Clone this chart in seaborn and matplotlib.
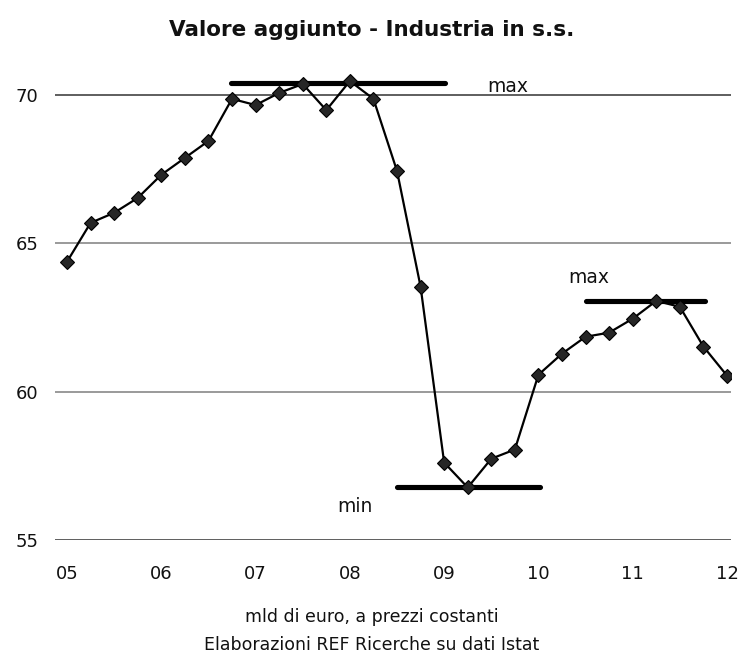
import numpy as np
import pandas as pd
import matplotlib
matplotlib.use("Agg")
import matplotlib.pyplot as plt
import seaborn as sns

# quarterly values, 2005 Q1 - 2012 Q1 (mld di euro, prezzi costanti)
valori = [64.38, 65.69, 66.03, 66.53, 67.31, 67.88, 68.45, 69.87, 69.66, 70.07,
          70.37, 69.49, 70.47, 69.87, 67.44, 63.54, 57.61, 56.77, 57.74, 58.05,
          60.57, 61.28, 61.85, 61.99, 62.46, 63.06, 62.86, 61.52, 60.54]
trimestri = list(range(len(valori)))
anni = ["05", "06", "07", "08", "09", "10", "11", "12"]
y_ticks = [55, 60, 65, 70]

# reference lines: start/end in quarters, level
ref_start = [6.96, 14.0, 22.02]
ref_end = [16.04, 20.07, 27.07]
ref_level = [70.4, 56.77, 63.06]

# labels for the reference lines (position in quarters / value)
lab_text = ["max", "min", "max"]
lab_x = [18.7, 12.2, 22.15]
lab_y = [70.29, 56.13, 63.86]

df = pd.DataFrame({"t": trimestri, "v": valori})

sns.set_style("white")
plt.rcParams["font.family"] = ["DejaVu Sans"]

fig = plt.figure(figsize=(7.43, 6.57), dpi=100)
ax = fig.add_axes([55 / 743, 1 - 540 / 657, 676 / 743, 489.5 / 657])

for yv in y_ticks:
    col = "#7f7f7f"
    if yv in (55, 70):
        col = "#333333"
    ax.axhline(yv, color=col, lw=1.1, zorder=0)

for x0, x1, lv in zip(ref_start, ref_end, ref_level):
    ax.plot([x0, x1], [lv, lv], color="black", lw=3.7, solid_capstyle="round", zorder=1)

sns.lineplot(data=df, x="t", y="v", ax=ax, color="black", lw=1.6,
             marker="D", markersize=6.8, markerfacecolor="#262626",
             markeredgecolor="black", markeredgewidth=0.8, zorder=3)

for t, xx, yy in zip(lab_text, lab_x, lab_y):
    ax.text(xx, yy, t, fontsize=13.5, ha="center", va="center", color="#111111")

ax.set_xlim(-0.51, 28.17)
ax.set_ylim(55, 71.5)
ax.set_xticks(list(range(0, len(valori), 4)))
ax.set_xticklabels(anni)
ax.set_yticks(y_ticks)
ax.tick_params(axis="both", length=0, labelsize=13, colors="#111111")
ax.tick_params(axis="x", pad=18)
ax.tick_params(axis="y", pad=12)
ax.set_xlabel("")
ax.set_ylabel("")
for s in ax.spines.values():
    s.set_visible(False)

fig.text(0.5, 1 - 30 / 657, "Valore aggiunto - Industria in s.s.", ha="center",
         va="center", fontsize=15.5, fontweight="bold", color="#111111")
fig.text(0.5, 1 - 617 / 657, "mld di euro, a prezzi costanti", ha="center",
         va="center", fontsize=12.5, color="#111111")
fig.text(0.5, 1 - 645 / 657, "Elaborazioni REF Ricerche su dati Istat", ha="center",
         va="center", fontsize=12.5, color="#111111")

fig.savefig("out.png", dpi=100)
